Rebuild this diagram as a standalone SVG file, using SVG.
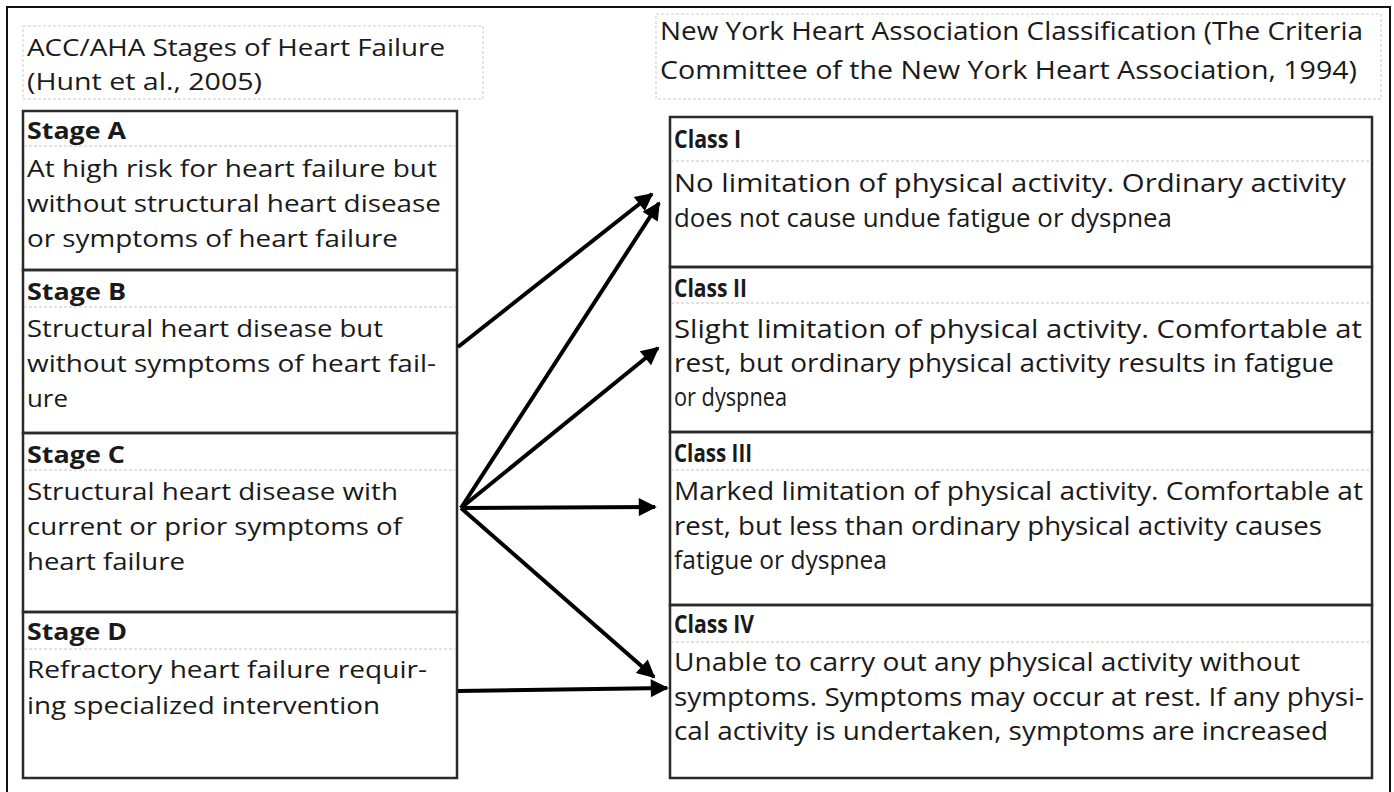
<svg xmlns="http://www.w3.org/2000/svg" width="1394" height="792" viewBox="0 0 1394 792">
<style>
.t{font-family:"Open Sans","Noto Sans","Liberation Sans",sans-serif;fill:#1a1a1a}
.l{font-size:24px}
.r{font-size:25px}
.b{font-weight:bold}
.box{fill:none;stroke:#2a2a2a;stroke-width:2.5}
.sep{stroke:#c4c4c4;stroke-width:1;stroke-dasharray:3 2}
.hdr{fill:none;stroke:#cccccc;stroke-width:1;stroke-dasharray:3 2}
.arr{stroke:#000;stroke-width:4;fill:none;marker-end:url(#ah)}
</style>
<defs>
<marker id="ah" viewBox="0 0 10 10" refX="9" refY="5" markerWidth="5.5" markerHeight="4.5" orient="auto" markerUnits="strokeWidth">
<path d="M0,0 L10,5 L0,10 z" fill="#000"/>
</marker>
</defs>
<rect x="0" y="0" width="1394" height="792" fill="#fff"/>
<rect x="7" y="7" width="1383" height="800" fill="none" stroke="#111" stroke-width="2"/>

<g id="left-header">
<rect class="hdr" x="23" y="26" width="460" height="73"/>
<text class="t l" x="27" y="56" textLength="418" lengthAdjust="spacingAndGlyphs">ACC/AHA Stages of Heart Failure</text>
<text class="t l" x="27" y="90" textLength="235" lengthAdjust="spacingAndGlyphs">(Hunt et al., 2005)</text>
</g>

<g id="stage-a">
<rect class="box" x="23" y="111" width="434" height="159"/>
<line class="sep" x1="24" y1="146" x2="456" y2="146"/>
<text class="t l b" x="27" y="139" textLength="99" lengthAdjust="spacingAndGlyphs">Stage A</text>
<text class="t l" x="27" y="177" textLength="410" lengthAdjust="spacingAndGlyphs">At high risk for heart failure but</text>
<text class="t l" x="27" y="212" textLength="414" lengthAdjust="spacingAndGlyphs">without structural heart disease</text>
<text class="t l" x="27" y="247" textLength="371" lengthAdjust="spacingAndGlyphs">or symptoms of heart failure</text>
</g>

<g id="stage-b">
<rect class="box" x="23" y="270" width="434" height="163"/>
<line class="sep" x1="24" y1="307" x2="456" y2="307"/>
<text class="t l b" x="27" y="300" textLength="99" lengthAdjust="spacingAndGlyphs">Stage B</text>
<text class="t l" x="27" y="337" textLength="356" lengthAdjust="spacingAndGlyphs">Structural heart disease but</text>
<text class="t l" x="27" y="372" textLength="409" lengthAdjust="spacingAndGlyphs">without symptoms of heart fail-</text>
<text class="t l" x="27" y="407" textLength="41" lengthAdjust="spacingAndGlyphs">ure</text>
</g>

<g id="stage-c">
<rect class="box" x="23" y="433" width="434" height="179"/>
<line class="sep" x1="24" y1="470" x2="456" y2="470"/>
<text class="t l b" x="27" y="463" textLength="98" lengthAdjust="spacingAndGlyphs">Stage C</text>
<text class="t l" x="27" y="500" textLength="371" lengthAdjust="spacingAndGlyphs">Structural heart disease with</text>
<text class="t l" x="27" y="535" textLength="375" lengthAdjust="spacingAndGlyphs">current or prior symptoms of</text>
<text class="t l" x="27" y="570" textLength="158" lengthAdjust="spacingAndGlyphs">heart failure</text>
</g>

<g id="stage-d">
<rect class="box" x="23" y="612" width="434" height="166"/>
<line class="sep" x1="24" y1="649" x2="456" y2="649"/>
<text class="t l b" x="27" y="640" textLength="100" lengthAdjust="spacingAndGlyphs">Stage D</text>
<text class="t l" x="27" y="678" textLength="400" lengthAdjust="spacingAndGlyphs">Refractory heart failure requir-</text>
<text class="t l" x="27" y="714" textLength="353" lengthAdjust="spacingAndGlyphs">ing specialized intervention</text>
</g>

<g id="right-header">
<rect class="hdr" x="656" y="14" width="725" height="85"/>
<text class="t r" x="660" y="40" textLength="703" lengthAdjust="spacingAndGlyphs">New York Heart Association Classification (The Criteria</text>
<text class="t r" x="660" y="79" textLength="697" lengthAdjust="spacingAndGlyphs">Committee of the New York Heart Association, 1994)</text>
</g>

<g id="class-i">
<rect class="box" x="670" y="117" width="702" height="150"/>
<line class="sep" x1="671" y1="161" x2="1371" y2="161"/>
<text class="t r b" x="674" y="148" textLength="67" lengthAdjust="spacingAndGlyphs">Class I</text>
<text class="t r" x="674" y="192" textLength="672" lengthAdjust="spacingAndGlyphs">No limitation of physical activity. Ordinary activity</text>
<text class="t r" x="674" y="227" textLength="498" lengthAdjust="spacingAndGlyphs">does not cause undue fatigue or dyspnea</text>
</g>

<g id="class-ii">
<rect class="box" x="670" y="267" width="702" height="165"/>
<line class="sep" x1="671" y1="303" x2="1371" y2="303"/>
<text class="t r b" x="674" y="297" textLength="73" lengthAdjust="spacingAndGlyphs">Class II</text>
<text class="t r" x="674" y="338" textLength="688" lengthAdjust="spacingAndGlyphs">Slight limitation of physical activity. Comfortable at</text>
<text class="t r" x="674" y="372" textLength="660" lengthAdjust="spacingAndGlyphs">rest, but ordinary physical activity results in fatigue</text>
<text class="t r" x="674" y="406" textLength="113" lengthAdjust="spacingAndGlyphs">or dyspnea</text>
</g>

<g id="class-iii">
<rect class="box" x="670" y="432" width="702" height="173"/>
<line class="sep" x1="671" y1="470" x2="1371" y2="470"/>
<text class="t r b" x="674" y="462" textLength="78" lengthAdjust="spacingAndGlyphs">Class III</text>
<text class="t r" x="674" y="500" textLength="689" lengthAdjust="spacingAndGlyphs">Marked limitation of physical activity. Comfortable at</text>
<text class="t r" x="674" y="535" textLength="648" lengthAdjust="spacingAndGlyphs">rest, but less than ordinary physical activity causes</text>
<text class="t r" x="674" y="569" textLength="213" lengthAdjust="spacingAndGlyphs">fatigue or dyspnea</text>
</g>

<g id="class-iv">
<rect class="box" x="670" y="605" width="702" height="173"/>
<line class="sep" x1="671" y1="642" x2="1371" y2="642"/>
<text class="t r b" x="674" y="633" textLength="80" lengthAdjust="spacingAndGlyphs">Class IV</text>
<text class="t r" x="674" y="671" textLength="626" lengthAdjust="spacingAndGlyphs">Unable to carry out any physical activity without</text>
<text class="t r" x="674" y="706" textLength="690" lengthAdjust="spacingAndGlyphs">symptoms. Symptoms may occur at rest. If any physi-</text>
<text class="t r" x="674" y="740" textLength="654" lengthAdjust="spacingAndGlyphs">cal activity is undertaken, symptoms are increased</text>
</g>

<g id="connectors">
<line class="arr" x1="458" y1="347" x2="652" y2="194"/>
<line class="arr" x1="461" y1="508" x2="659" y2="203"/>
<line class="arr" x1="461" y1="508" x2="658" y2="348"/>
<line class="arr" x1="461" y1="508" x2="655" y2="507"/>
<line class="arr" x1="461" y1="508" x2="654" y2="677"/>
<line class="arr" x1="458" y1="691" x2="667" y2="688"/>
</g>
</svg>
